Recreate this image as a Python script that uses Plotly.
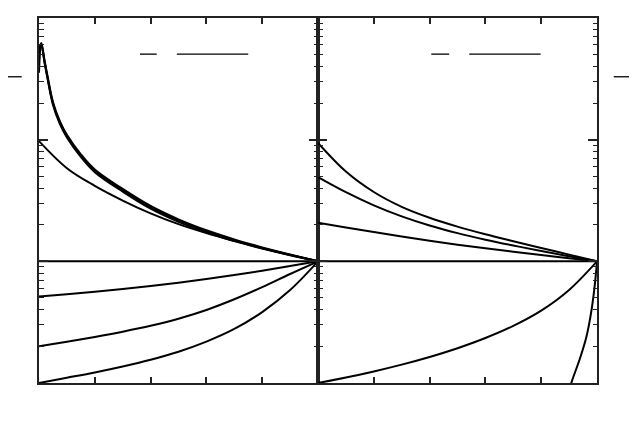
import plotly.graph_objects as go

# ---------------- data ----------------
# left panel
x_left = [0, 0.1, 0.2, 0.3, 0.4, 0.5, 0.6, 0.7, 0.8, 0.9, 1.0]
left_01 = [0.1, 0.1104, 0.1222, 0.1368, 0.1552, 0.1807, 0.2188, 0.278, 0.3828, 0.5808, 1.0]
left_02 = [0.2, 0.2183, 0.2393, 0.2642, 0.2951, 0.3373, 0.3981, 0.4875, 0.6138, 0.787, 1.0]
left_05 = [0.5129, 0.537, 0.5636, 0.5929, 0.6266, 0.6668, 0.7145, 0.7709, 0.8375, 0.914, 1.0]
left_10 = [9.73, 5.83, 4.17, 3.16, 2.48, 2.02, 1.706, 1.472, 1.282, 1.13, 1.0]

x_top = [0, 0.008, 0.02, 0.03, 0.05, 0.075, 0.1, 0.15, 0.2, 0.3, 0.4, 0.5, 0.6, 0.7, 0.8, 0.9, 1.0]
top_a = [54.95, 62.37, 44.67, 33.88, 20.42, 14.13, 10.96, 7.586, 5.689, 3.936, 2.851, 2.213, 1.799, 1.514, 1.303, 1.138, 1.0]
top_b = [35.48, 60.26, 42.66, 32.21, 19.41, 13.43, 10.42, 7.211, 5.408, 3.741, 2.71, 2.113, 1.73, 1.466, 1.274, 1.122, 1.0]
top_c = [44.67, 61.66, 43.65, 33.11, 19.95, 13.8, 10.72, 7.413, 5.559, 3.846, 2.786, 2.168, 1.766, 1.493, 1.288, 1.13, 1.0]

# right panel
x_right = [0, 0.1, 0.2, 0.3, 0.4, 0.5, 0.6, 0.7, 0.8, 0.9, 1.0]
right_10 = [9.397, 5.47, 3.715, 2.805, 2.28, 1.928, 1.667, 1.462, 1.288, 1.135, 1.0]
right_5 = [4.92, 3.698, 2.884, 2.344, 1.972, 1.706, 1.507, 1.349, 1.216, 1.102, 1.0]
right_2 = [2.075, 1.901, 1.742, 1.6, 1.476, 1.371, 1.279, 1.199, 1.127, 1.062, 1.0]
right_01 = [0.1, 0.1109, 0.1245, 0.1416, 0.1637, 0.1932, 0.2344, 0.2951, 0.3936, 0.5821, 1.0]

x_steep = [0.9, 0.91, 0.94, 0.963, 0.981, 0.993, 1.0]
right_steep = [0.087, 0.1035, 0.162, 0.245, 0.407, 0.668, 1.0]

x_flat = [0, 1]
flat = [1, 1]

y_major = [0.1, 1, 10, 100]
y_minor = [m * d for d in (0.1, 1, 10) for m in range(2, 10)]
x_ticks = [0.2, 0.4, 0.6, 0.8]

# ---------------- figure ----------------
fig = go.Figure()
line = dict(color="black", width=2, shape="spline", smoothing=1.0)

left_series = [(x_left, left_01), (x_left, left_02), (x_left, left_05), (x_left, left_10),
               (x_top, top_a), (x_top, top_b), (x_top, top_c), (x_flat, flat)]
for xs, ys in left_series:
    fig.add_trace(go.Scatter(x=xs, y=ys, mode="lines", line=line, xaxis="x", yaxis="y",
                             showlegend=False, hoverinfo="skip"))

right_series = [(x_right, right_10), (x_right, right_5), (x_right, right_2),
                (x_right, right_01), (x_steep, right_steep), (x_flat, flat)]
for xs, ys in right_series:
    fig.add_trace(go.Scatter(x=xs, y=ys, mode="lines", line=line, xaxis="x2", yaxis="y2",
                             showlegend=False, hoverinfo="skip"))

xcommon = dict(range=[0, 1], tickvals=x_ticks, ticks="inside", ticklen=6, tickwidth=1.5,
               tickcolor="#222", showticklabels=False, showgrid=False, zeroline=False,
               showline=True, linecolor="#222", linewidth=2, mirror="ticks")
ycommon = dict(type="log", range=[-1, 2], tickvals=y_major, ticks="inside", ticklen=9,
               tickwidth=1.5, tickcolor="#222", showticklabels=False, showgrid=False,
               zeroline=False, showline=True, linecolor="#222", linewidth=2, mirror="ticks",
               minor=dict(tickvals=y_minor, ticks="inside", ticklen=4.5, tickwidth=1.2,
                          tickcolor="#222", showgrid=False))

fig.update_layout(
    width=629, height=427,
    margin=dict(l=31, r=40, t=8, b=52),
    paper_bgcolor="white", plot_bgcolor="white",
    xaxis=dict(domain=[0, 0.5], anchor="y", **xcommon),
    yaxis=dict(domain=[0, 1], anchor="x", **ycommon),
    xaxis2=dict(domain=[0.5, 1], anchor="y2", **xcommon),
    yaxis2=dict(domain=[0, 1], anchor="x2", **ycommon),
)

# fraction bars of the (unrendered) math labels
bars = [(0.181, 0.211, 0.901), (0.247, 0.375, 0.901),
        (0.703, 0.735, 0.901), (0.771, 0.899, 0.901),
        (-0.061, -0.031, 0.839), (1.030, 1.060, 0.839)]
for x0, x1, yy in bars:
    fig.add_shape(type="line", xref="paper", yref="paper", x0=x0, x1=x1, y0=yy, y1=yy,
                  line=dict(color="black", width=1.3))

fig.write_html("out.html")
